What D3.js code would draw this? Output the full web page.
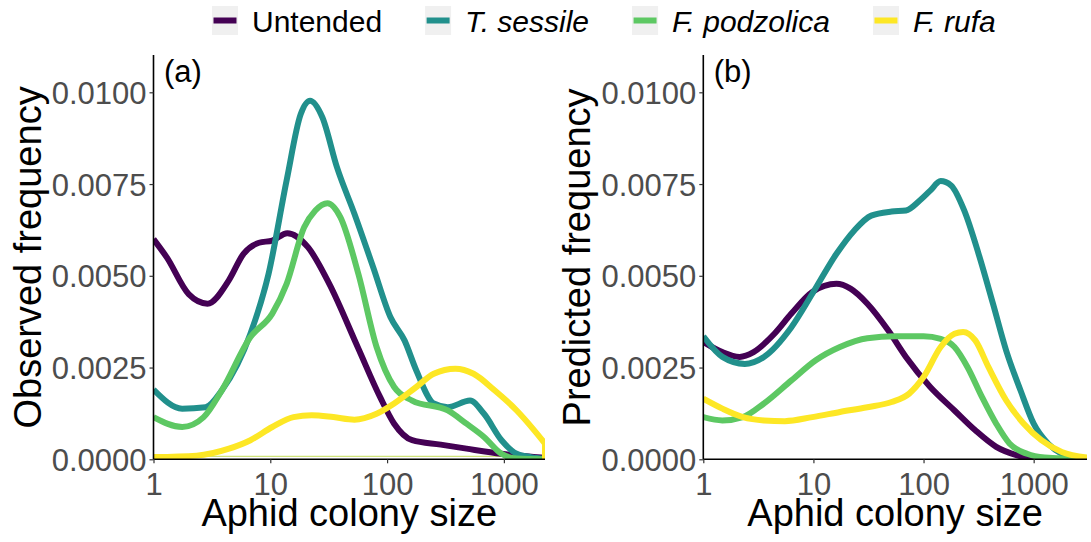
<!DOCTYPE html>
<html>
<head>
<meta charset="utf-8">
<script src="https://cdn.jsdelivr.net/npm/d3@7"></script>
<style>
  html, body { margin: 0; padding: 0; background: #fff; }
  svg { display: block; }
  text { font-family: "Liberation Sans", Arial, Helvetica, sans-serif; }
</style>
</head>
<body>
<script>
// ---------------- DATA ----------------
const seriesNames = ["Untended", "T. sessile", "F. podzolica", "F. rufa"];
const seriesItalic = [false, true, true, true];
const seriesColors = ["#440154", "#21908C", "#5DC863", "#FDE725"];
const xTicks = [1, 10, 100, 1000];
const yTicks = [0, 0.0025, 0.005, 0.0075, 0.01];
const panelTags = ["(a)", "(b)"];
const yTitles = ["Observed frequency", "Predicted frequency"];
const xTitle = "Aphid colony size";

// Panel (a) observed
const obsUntendedX = [1, 1.3, 2, 2.9, 4.4, 5.9, 8, 10.4, 14, 21, 32, 56, 87, 115, 164, 288, 479, 955, 2250];
const obsUntendedY = [0.0060, 0.0055, 0.0045, 0.00424, 0.00487, 0.0056, 0.0059, 0.00596, 0.00616, 0.00578, 0.00478, 0.00306, 0.0017, 0.00097, 0.00052, 0.0004, 0.00029, 0.00015, 0.00004];
const obsSessileX = [1, 1.76, 2.79, 3.85, 6.76, 9.66, 13.8, 18.2, 21.9, 27.9, 37.2, 52.5, 75.9, 107, 141, 178, 251, 331, 513, 676, 955, 1288, 1698, 2250];
const obsSessileY = [0.0019, 0.00138, 0.00142, 0.00188, 0.00342, 0.00505, 0.0076, 0.0094, 0.00977, 0.00932, 0.00796, 0.00669, 0.00524, 0.00387, 0.00324, 0.00242, 0.00152, 0.00142, 0.0016, 0.00124, 0.00052, 0.00015, 0.00006, 0.00001];
const obsPodzolicaX = [1, 1.76, 2.69, 3.85, 6.76, 10.4, 13.8, 19.5, 24.3, 30.9, 39.8, 56.8, 81.3, 115, 164, 331, 479, 676, 955, 1288, 2250];
const obsPodzolicaY = [0.00115, 0.00088, 0.00115, 0.00188, 0.00333, 0.00397, 0.00478, 0.00632, 0.00678, 0.00698, 0.0066, 0.00505, 0.00306, 0.00197, 0.0016, 0.00133, 0.00097, 0.00061, 0.00015, 0.00002, 0];
const obsRufaX = [1, 2.34, 4.43, 6.76, 10.4, 15.8, 22.6, 34.7, 52.5, 81.3, 115, 178, 251, 385, 550, 832, 1288, 1820, 2250];
const obsRufaY = [0.00006, 0.0001, 0.00029, 0.00052, 0.00088, 0.00115, 0.0012, 0.00115, 0.00108, 0.00124, 0.00152, 0.00197, 0.00233, 0.00247, 0.00233, 0.00188, 0.00133, 0.00079, 0.00043];
const obsBaselineX = [1, 2250];
const obsBaselineY = [0.00008, 0.00008];

// Panel (b) predicted
const predUntendedX = [1, 1.49, 2.14, 2.86, 4.42, 6.31, 9.77, 16.2, 21.7, 30.9, 47.9, 69.2, 115, 191, 295, 457, 708, 1000, 3050];
const predUntendedY = [0.0032, 0.00292, 0.00279, 0.00292, 0.00342, 0.00397, 0.00456, 0.00478, 0.00465, 0.00424, 0.00351, 0.00279, 0.00197, 0.00133, 0.00079, 0.00034, 0.00011, 0.00002, 0];
const predSessileX = [1, 1.49, 2.38, 3.55, 6.31, 9.77, 16.2, 23.4, 33.5, 51.3, 69.2, 92.3, 115, 143, 178, 234, 316, 427, 562, 759, 1000, 1349, 1799, 2399, 3050];
const predSessileY = [0.00335, 0.00279, 0.0026, 0.00279, 0.0036, 0.00451, 0.0056, 0.00623, 0.00664, 0.00675, 0.00678, 0.00705, 0.00732, 0.00758, 0.00746, 0.00678, 0.0056, 0.00424, 0.00297, 0.00188, 0.00097, 0.00043, 0.00015, 0.00005, 0.00001];
const predPodzolicaX = [1, 1.49, 2.29, 3.55, 6.31, 10.5, 17.4, 30.9, 55.6, 100, 143, 191, 251, 339, 457, 603, 871, 1259, 3050];
const predPodzolicaY = [0.00115, 0.00106, 0.00115, 0.00152, 0.00215, 0.0027, 0.00306, 0.0033, 0.00335, 0.00335, 0.00328, 0.00306, 0.00251, 0.0017, 0.00097, 0.00043, 0.00015, 0.00005, 0];
const predRufaX = [1, 1.49, 2.29, 3.55, 5.5, 9.77, 17.4, 30.9, 51.3, 74.1, 100, 143, 191, 229, 295, 389, 562, 813, 1175, 1799, 3050];
const predRufaY = [0.00165, 0.00138, 0.00115, 0.00106, 0.00104, 0.00115, 0.00129, 0.00142, 0.00156, 0.00179, 0.00224, 0.00306, 0.00342, 0.00347, 0.00324, 0.00251, 0.00161, 0.00097, 0.00052, 0.0002, 0.00005];

const xMaxA = 2250, xMaxB = 3050, yMax = 0.011;

// ---------------- LAYOUT ----------------
const W = 1091, H = 542;
const svg = d3.select("body").append("svg").attr("width", W).attr("height", H);
const font = '"Liberation Sans", Arial, Helvetica, sans-serif';

const panels = [
  { left: 153.5, right: 545, top: 55.6, bottom: 459.3, xMax: xMaxA, titleX: 40.5,
    series: [[obsUntendedX, obsUntendedY], [obsSessileX, obsSessileY], [obsPodzolicaX, obsPodzolicaY], [obsRufaX, obsRufaY]],
    baseline: [obsBaselineX, obsBaselineY], dropLast: 3 },
  { left: 703.3, right: 1087, top: 55.6, bottom: 459.3, xMax: xMaxB, titleX: 590,
    series: [[predUntendedX, predUntendedY], [predSessileX, predSessileY], [predPodzolicaX, predPodzolicaY], [predRufaX, predRufaY]],
    baseline: null, dropLast: -1 }
];

const zip = (xs, ys) => xs.map((x, i) => ({ x, y: ys[i] }));

panels.forEach((p, pi) => {
  const x = d3.scaleLog().domain([1, p.xMax]).range([p.left, p.right]);
  const y = d3.scaleLinear().domain([0, yMax]).range([p.bottom, p.top]);
  const g = svg.append("g");
  const clipId = "clip" + pi;
  svg.append("clipPath").attr("id", clipId).append("rect")
    .attr("x", p.left).attr("y", p.top - 10).attr("width", p.right - p.left).attr("height", p.bottom - p.top + 10);

  const line = d3.line().x(d => x(d.x)).y(d => y(d.y)).curve(d3.curveMonotoneX);
  const lg = g.append("g").attr("clip-path", `url(#${clipId})`);

  if (p.baseline) {
    lg.append("path").datum(zip(p.baseline[0], p.baseline[1]))
      .attr("d", d3.line().x(d => x(d.x)).y(d => y(d.y)))
      .attr("fill", "none").attr("stroke", "#cfe27a").attr("stroke-width", 1.3);
  }

  p.series.forEach((s, si) => {
    const pts = zip(s[0], s[1]);
    let d = line(pts);
    if (si === p.dropLast) {
      const last = pts[pts.length - 1];
      d += "L" + x(last.x) + "," + y(0);
    }
    lg.append("path").attr("d", d)
      .attr("fill", "none").attr("stroke", seriesColors[si])
      .attr("stroke-width", 6).attr("stroke-linejoin", "round");
  });

  // axes
  const yAxis = d3.axisLeft(y).tickValues(yTicks).tickFormat(d3.format(".4f")).tickSize(4).tickPadding(3);
  const ya = g.append("g").attr("transform", `translate(${p.left},0)`).call(yAxis);
  const xAxis = d3.axisBottom(x).tickValues(xTicks).tickFormat(d3.format("d")).tickSize(4).tickPadding(3);
  const xa = g.append("g").attr("transform", `translate(0,${p.bottom})`).call(xAxis);
  [ya, xa].forEach(a => {
    a.select(".domain").attr("stroke", "#000").attr("stroke-width", 1.6)
      .attr("d", a === ya ? `M0,${p.top - 0.6}V${p.bottom}` : `M${p.left},0H${p.right}`);
    a.selectAll(".tick line").attr("stroke", "#333").attr("stroke-width", 1.2);
    a.selectAll(".tick text").attr("fill", "#4D4D4D").style("font-family", font).style("font-size", "31px");
  });
  ya.selectAll(".tick text").attr("dy", "0.36em");
  xa.selectAll(".tick text").attr("dy", "0").attr("y", 35.5);

  // panel tag
  g.append("text").attr("x", p.left + 10.5).attr("y", 82).text(panelTags[pi])
    .style("font-size", "31px").attr("fill", "#000");

  // axis titles
  g.append("text").attr("transform", `translate(${p.titleX},${(p.top + p.bottom) / 2}) rotate(-90)`)
    .attr("text-anchor", "middle").style("font-size", "38px").attr("fill", "#000").text(yTitles[pi]);
  g.append("text").attr("x", (p.left + p.right) / 2).attr("y", 526)
    .attr("text-anchor", "middle").style("font-size", "38px").attr("fill", "#000").text(xTitle);
});

// ---------------- LEGEND ----------------
const leg = svg.append("g");
let lx = 212;
seriesNames.forEach((name, i) => {
  leg.append("rect").attr("x", lx).attr("y", 6).attr("width", 26).attr("height", 29).attr("fill", "#F0F0F0");
  leg.append("line").attr("x1", lx + 1.5).attr("x2", lx + 24.5).attr("y1", 20.5).attr("y2", 20.5)
    .attr("stroke", seriesColors[i]).attr("stroke-width", 6);
  const t = leg.append("text").attr("x", lx + 40).attr("y", 32)
    .style("font-size", "30px").style("font-style", seriesItalic[i] ? "italic" : "normal")
    .attr("fill", "#000").text(name);
  const w = t.node().getComputedTextLength();
  lx = lx + 40 + w + 43;
});
</script>
</body>
</html>
